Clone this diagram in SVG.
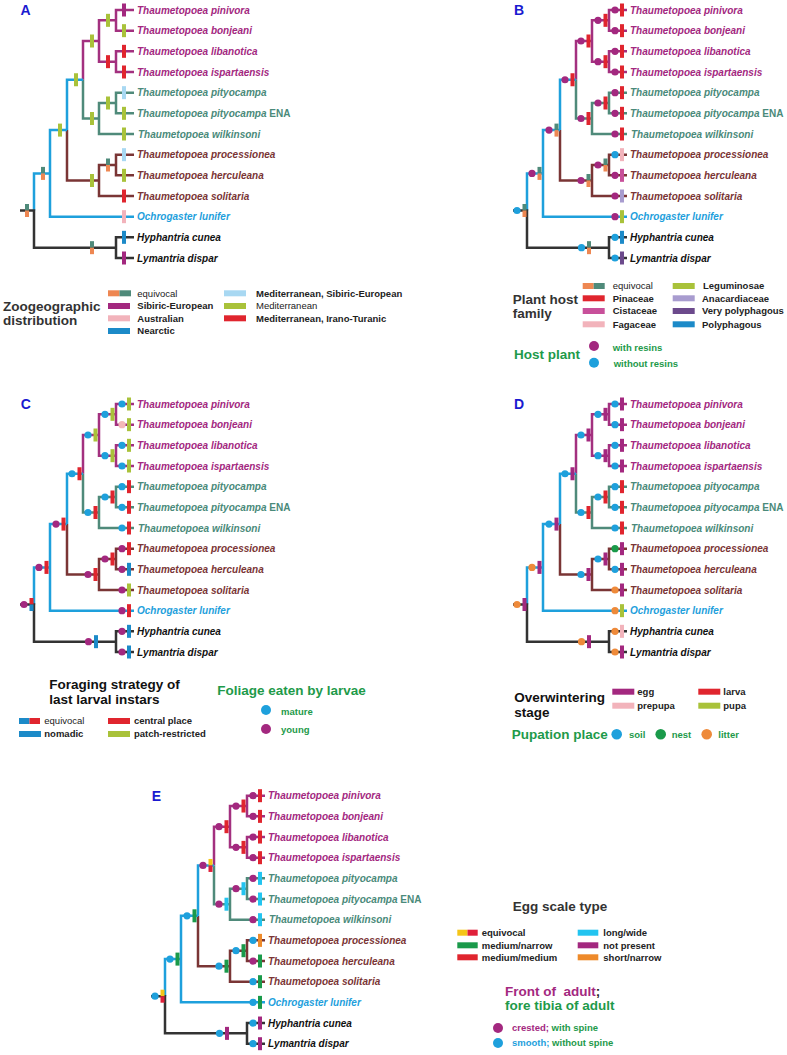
<svg xmlns="http://www.w3.org/2000/svg" width="787" height="1055" viewBox="0 0 787 1055">
<style>
text{font-family:"Liberation Sans",Arial,Helvetica,sans-serif;font-weight:bold}
.lf{font-size:10px;font-style:italic}
.up{font-style:normal}
.cm{fill:#a3287f}.ct{fill:#4a8a7a}.cr{fill:#7a3535}.cb{fill:#1ea0dc}.ck{fill:#111}
.pl{font-size:14px;fill:#1a1ad0}
.h{font-size:13.5px;fill:#333}
.hk{font-size:13.5px;fill:#111}
.hg{font-size:13.5px;fill:#1e9a4a}
.hm{font-size:13.5px;fill:#a3287f}
.li{font-size:9.5px;fill:#222}
.lg{font-size:9.5px;fill:#1e9a4a}
.nw{font-weight:normal}
</style>
<defs>
<rect id="bar" x="-2" y="-6.5" width="4" height="13"/>
<rect id="sw" x="0" y="-3" width="22" height="6"/>
<g id="eqTO"><rect x="-2" y="-6.5" width="4" height="6.5" fill="#4f8a7a"/><rect x="-2" y="0" width="4" height="6.5" fill="#ee8752"/></g>
<g id="eqRB"><rect x="-2" y="-6.5" width="4" height="6.5" fill="#e0252e"/><rect x="-2" y="0" width="4" height="6.5" fill="#1c8ac8"/></g>
<g id="eqYR"><rect x="-2" y="-6.5" width="4" height="6.5" fill="#f5c518"/><rect x="-2" y="0" width="4" height="6.5" fill="#e0203a"/></g>
<circle id="dot" r="3.6"/>
<circle id="ldot" r="5"/>
<g id="tree" fill="none" stroke-width="2.5">
<path stroke="#a3307f" d="M134,10H116V30.67H134M134,51.33H116V72H134M116,20.33H99V61.67H116M99,41H83V79.75"/>
<path stroke="#4f8a7a" d="M134,92.67H116V113.33H134M116,103H99V134H134M99,118.5H83V79.75"/>
<path stroke="#7a3535" d="M134,154.67H116V175.33H134M116,165H99V196H134M99,180.5H67V130.1"/>
<path stroke="#1ea0dc" d="M83,79.75H67V130.1M67,130.1H50V216.67H134M50,173.4H34V210.5"/>
<path stroke="#333" d="M20,210.5H34V247.67H116M134,237.33H116V258H134"/>
</g>
</defs>
<rect width="787" height="1055" fill="#fff"/>

<g id="connectors">
<use href="#tree"/>
<use href="#tree" transform="translate(493,0)"/>
<use href="#tree" transform="translate(0,394)"/>
<use href="#tree" transform="translate(493,394)"/>
<use href="#tree" transform="translate(131,785.7)"/>
</g>

<!-- PANEL A -->
<g id="panelA">
<text class="pl" x="20.5" y="15">A</text>
<g id="A-pb"><use href="#bar" x="108" y="20.33" fill="#a9c23a"/></g>
<g id="A-li"><use href="#bar" x="108" y="61.67" fill="#e0252e"/></g>
<g id="A-pine"><use href="#bar" x="92" y="41" fill="#a9c23a"/></g>
<g id="A-pe"><use href="#bar" x="108" y="103" fill="#a9c23a"/></g>
<g id="A-pw"><use href="#bar" x="92" y="118.5" fill="#a9c23a"/></g>
<g id="A-tp"><use href="#bar" x="76" y="79.75" fill="#a9c23a"/></g>
<g id="A-ph"><use href="#eqTO" x="108" y="165"/></g>
<g id="A-phs"><use href="#bar" x="92" y="180.5" fill="#a9c23a"/></g>
<g id="A-th"><use href="#bar" x="60" y="130.1" fill="#a9c23a"/></g>
<g id="A-to"><use href="#eqTO" x="43" y="173.4"/></g>
<g id="A-root"><use href="#eqTO" x="27" y="210.5"/></g>
<g id="A-hl"><use href="#eqTO" x="92" y="247.67"/></g>
<g id="A-pinivora"><use href="#bar" x="124" y="10" fill="#a3287f"/><text class="lf cm" x="137" y="13.6">Thaumetopoea pinivora</text></g>
<g id="A-bonjeani"><use href="#bar" x="124" y="30.67" fill="#a9c23a"/><text class="lf cm" x="137" y="34.27">Thaumetopoea bonjeani</text></g>
<g id="A-libanotica"><use href="#bar" x="124" y="51.33" fill="#e0252e"/><text class="lf cm" x="137" y="54.93">Thaumetopoea libanotica</text></g>
<g id="A-ispartaensis"><use href="#bar" x="124" y="72" fill="#e0252e"/><text class="lf cm" x="137" y="75.6">Thaumetopoea ispartaensis</text></g>
<g id="A-pityocampa"><use href="#bar" x="124" y="92.67" fill="#a8d8f2"/><text class="lf ct" x="137" y="96.27">Thaumetopoea pityocampa</text></g>
<g id="A-pityocampaENA"><use href="#bar" x="124" y="113.33" fill="#a9c23a"/><text class="lf ct" x="137" y="116.93">Thaumetopoea pityocampa <tspan class="up">ENA</tspan></text></g>
<g id="A-wilkinsoni"><use href="#bar" x="124" y="134" fill="#a9c23a"/><text class="lf ct" x="138" y="137.6">Thaumetopoea wilkinsoni</text></g>
<g id="A-processionea"><use href="#bar" x="124" y="154.67" fill="#a8d8f2"/><text class="lf cr" x="137" y="158.27">Thaumetopoea processionea</text></g>
<g id="A-herculeana"><use href="#bar" x="124" y="175.33" fill="#a9c23a"/><text class="lf cr" x="137" y="178.93">Thaumetopoea herculeana</text></g>
<g id="A-solitaria"><use href="#bar" x="124" y="196" fill="#e0252e"/><text class="lf cr" x="137" y="199.6">Thaumetopoea solitaria</text></g>
<g id="A-ochrogaster"><use href="#bar" x="124" y="216.67" fill="#f2b3bb"/><text class="lf cb" x="137" y="220.27">Ochrogaster lunifer</text></g>
<g id="A-hyphantria"><use href="#bar" x="124" y="237.33" fill="#1c8ac8"/><text class="lf ck" x="137" y="240.93">Hyphantria cunea</text></g>
<g id="A-lymantria"><use href="#bar" x="124" y="258" fill="#a3287f"/><text class="lf ck" x="137" y="261.6">Lymantria dispar</text></g>
</g>
<g id="legendA">
<text class="h" x="3" y="310.5">Zoogeographic</text>
<text class="h" x="3" y="324.5">distribution</text>
<rect x="108" y="290.3" width="11.5" height="6" fill="#ee8752"/><rect x="119.5" y="290.3" width="11.5" height="6" fill="#4f8a7a"/>
<text class="li nw" x="137.3" y="296.7">equivocal</text>
<use href="#sw" x="108" y="306" fill="#a3287f"/><text class="li" x="137.3" y="309.4">Sibiric-European</text>
<use href="#sw" x="108" y="318.3" fill="#f2b3bb"/><text class="li" x="137.3" y="321.7">Australian</text>
<use href="#sw" x="108" y="331" fill="#1c8ac8"/><text class="li" x="137.3" y="334.4">Nearctic</text>
<use href="#sw" x="224" y="293.3" fill="#a8d8f2"/><text class="li" x="256" y="296.7">Mediterranean, Sibiric-European</text>
<use href="#sw" x="224" y="306" fill="#a9c23a"/><text class="li nw" x="256" y="309.4">Mediterranean</text>
<use href="#sw" x="224" y="318.3" fill="#e0252e"/><text class="li" x="256" y="321.7">Mediterranean, Irano-Turanic</text>
</g>

<!-- PANEL B -->
<g id="panelB">
<text class="pl" x="514" y="14.5">B</text>
<g transform="translate(493,0)">
<g id="B-pb"><use href="#dot" x="105" y="20.33" fill="#a3287f"/><use href="#bar" x="112.5" y="20.33" fill="#e0252e"/></g>
<g id="B-li"><use href="#dot" x="105" y="61.67" fill="#a3287f"/><use href="#bar" x="112.5" y="61.67" fill="#e0252e"/></g>
<g id="B-pine"><use href="#dot" x="88" y="41" fill="#a3287f"/><use href="#bar" x="95.5" y="41" fill="#e0252e"/></g>
<g id="B-pe"><use href="#dot" x="105" y="103" fill="#a3287f"/><use href="#bar" x="112.5" y="103" fill="#e0252e"/></g>
<g id="B-pw"><use href="#dot" x="88" y="118.5" fill="#a3287f"/><use href="#bar" x="95.5" y="118.5" fill="#e0252e"/></g>
<g id="B-tp"><use href="#dot" x="72" y="79.75" fill="#a3287f"/><use href="#bar" x="79.5" y="79.75" fill="#e0252e"/></g>
<g id="B-ph"><use href="#dot" x="105" y="165" fill="#a3287f"/><use href="#eqTO" x="112.5" y="165"/></g>
<g id="B-phs"><use href="#dot" x="88" y="180.5" fill="#a3287f"/><use href="#eqTO" x="95.5" y="180.5"/></g>
<g id="B-th"><use href="#dot" x="56" y="130.1" fill="#a3287f"/><use href="#eqTO" x="63.5" y="130.1"/></g>
<g id="B-to"><use href="#dot" x="39" y="173.4" fill="#a3287f"/><use href="#eqTO" x="46.5" y="173.4"/></g>
<g id="B-root"><use href="#dot" x="24" y="210.5" fill="#1ea0dc"/><use href="#eqTO" x="31.5" y="210.5"/></g>
<g id="B-hl"><use href="#dot" x="88.5" y="247.67" fill="#1ea0dc"/><use href="#eqTO" x="96" y="247.67"/></g>
<g id="B-pinivora"><use href="#dot" x="122" y="10" fill="#a3287f"/><use href="#bar" x="129" y="10" fill="#e0252e"/><text class="lf cm" x="137" y="13.6">Thaumetopoea pinivora</text></g>
<g id="B-bonjeani"><use href="#dot" x="122" y="30.67" fill="#a3287f"/><use href="#bar" x="129" y="30.67" fill="#e0252e"/><text class="lf cm" x="137" y="34.27">Thaumetopoea bonjeani</text></g>
<g id="B-libanotica"><use href="#dot" x="122" y="51.33" fill="#a3287f"/><use href="#bar" x="129" y="51.33" fill="#e0252e"/><text class="lf cm" x="137" y="54.93">Thaumetopoea libanotica</text></g>
<g id="B-ispartaensis"><use href="#dot" x="122" y="72" fill="#a3287f"/><use href="#bar" x="129" y="72" fill="#e0252e"/><text class="lf cm" x="137" y="75.6">Thaumetopoea ispartaensis</text></g>
<g id="B-pityocampa"><use href="#dot" x="122" y="92.67" fill="#a3287f"/><use href="#bar" x="129" y="92.67" fill="#e0252e"/><text class="lf ct" x="137" y="96.27">Thaumetopoea pityocampa</text></g>
<g id="B-pityocampaENA"><use href="#dot" x="122" y="113.33" fill="#a3287f"/><use href="#bar" x="129" y="113.33" fill="#e0252e"/><text class="lf ct" x="137" y="116.93">Thaumetopoea pityocampa <tspan class="up">ENA</tspan></text></g>
<g id="B-wilkinsoni"><use href="#dot" x="122" y="134" fill="#a3287f"/><use href="#bar" x="129" y="134" fill="#e0252e"/><text class="lf ct" x="138" y="137.6">Thaumetopoea wilkinsoni</text></g>
<g id="B-processionea"><use href="#dot" x="122" y="154.67" fill="#1ea0dc"/><use href="#bar" x="129" y="154.67" fill="#f2b3bb"/><text class="lf cr" x="137" y="158.27">Thaumetopoea processionea</text></g>
<g id="B-herculeana"><use href="#dot" x="122" y="175.33" fill="#a3287f"/><use href="#bar" x="129" y="175.33" fill="#c8509a"/><text class="lf cr" x="137" y="178.93">Thaumetopoea herculeana</text></g>
<g id="B-solitaria"><use href="#dot" x="122" y="196" fill="#a3287f"/><use href="#bar" x="129" y="196" fill="#a89ccf"/><text class="lf cr" x="137" y="199.6">Thaumetopoea solitaria</text></g>
<g id="B-ochrogaster"><use href="#dot" x="122" y="216.67" fill="#a3287f"/><use href="#bar" x="129" y="216.67" fill="#a9c23a"/><text class="lf cb" x="137" y="220.27">Ochrogaster lunifer</text></g>
<g id="B-hyphantria"><use href="#dot" x="122" y="237.33" fill="#1ea0dc"/><use href="#bar" x="129" y="237.33" fill="#1c8ac8"/><text class="lf ck" x="137" y="240.93">Hyphantria cunea</text></g>
<g id="B-lymantria"><use href="#dot" x="122" y="258" fill="#1ea0dc"/><use href="#bar" x="129" y="258" fill="#6c4a8c"/><text class="lf ck" x="137" y="261.6">Lymantria dispar</text></g>
</g>
</g>
<g id="legendB">
<text class="h" x="512.7" y="303.5">Plant host</text>
<text class="h" x="512.7" y="318">family</text>
<rect x="582.7" y="283" width="11" height="6" fill="#ee8752"/><rect x="593.7" y="283" width="11" height="6" fill="#4f8a7a"/>
<text class="li nw" x="612.7" y="289.4">equivocal</text>
<use href="#sw" x="582.7" y="298.3" fill="#e0252e"/><text class="li" x="612.7" y="301.7">Pinaceae</text>
<use href="#sw" x="582.7" y="311" fill="#c8509a"/><text class="li" x="612.7" y="314.4">Cistaceae</text>
<use href="#sw" x="582.7" y="324.3" fill="#f2b3bb"/><text class="li" x="612.7" y="327.7">Fagaceae</text>
<use href="#sw" x="672.7" y="286" fill="#a9c23a"/><text class="li" x="703" y="289.4">Leguminosae</text>
<use href="#sw" x="672.7" y="298.3" fill="#a89ccf"/><text class="li" x="702" y="301.7">Anacardiaceae</text>
<use href="#sw" x="672.7" y="311" fill="#6c4a8c"/><text class="li" x="702" y="314.4">Very polyphagous</text>
<use href="#sw" x="672.7" y="324.3" fill="#1c8ac8"/><text class="li" x="702" y="327.7">Polyphagous</text>
<text class="hg" x="514" y="358.7">Host plant</text>
<use href="#ldot" x="594" y="346" fill="#a3287f"/>
<use href="#ldot" x="594" y="362.7" fill="#1ea0dc"/>
<text class="lg" x="612.7" y="350.8">with resins</text>
<text class="lg" x="613.7" y="367">without resins</text>
</g>

<!-- PANEL C -->
<g id="panelC">
<text class="pl" x="20.7" y="408.5">C</text>
<g transform="translate(0,394)">
<g id="C-pb"><use href="#dot" x="105" y="20.33" fill="#1ea0dc"/><use href="#bar" x="112.5" y="20.33" fill="#a9c23a"/></g>
<g id="C-li"><use href="#dot" x="105" y="61.67" fill="#1ea0dc"/><use href="#bar" x="112.5" y="61.67" fill="#a9c23a"/></g>
<g id="C-pine"><use href="#dot" x="88" y="41" fill="#1ea0dc"/><use href="#bar" x="95.5" y="41" fill="#a9c23a"/></g>
<g id="C-pe"><use href="#dot" x="105" y="103" fill="#1ea0dc"/><use href="#bar" x="112.5" y="103" fill="#e0252e"/></g>
<g id="C-pw"><use href="#dot" x="88" y="118.5" fill="#1ea0dc"/><use href="#bar" x="95.5" y="118.5" fill="#e0252e"/></g>
<g id="C-tp"><use href="#dot" x="72" y="79.75" fill="#1ea0dc"/><use href="#bar" x="79.5" y="79.75" fill="#e0252e"/></g>
<g id="C-ph"><use href="#dot" x="105" y="165" fill="#a3287f"/><use href="#bar" x="112.5" y="165" fill="#e0252e"/></g>
<g id="C-phs"><use href="#dot" x="88" y="180.5" fill="#a3287f"/><use href="#bar" x="95.5" y="180.5" fill="#e0252e"/></g>
<g id="C-th"><use href="#dot" x="56" y="130.1" fill="#a3287f"/><use href="#bar" x="63.5" y="130.1" fill="#e0252e"/></g>
<g id="C-to"><use href="#dot" x="39" y="173.4" fill="#a3287f"/><use href="#bar" x="46.5" y="173.4" fill="#e0252e"/></g>
<g id="C-root"><use href="#dot" x="24" y="210.5" fill="#a3287f"/><use href="#eqRB" x="31.5" y="210.5"/></g>
<g id="C-hl"><use href="#dot" x="88.5" y="247.67" fill="#a3287f"/><use href="#bar" x="96" y="247.67" fill="#1c8ac8"/></g>
<g id="C-pinivora"><use href="#dot" x="122" y="10" fill="#1ea0dc"/><use href="#bar" x="129" y="10" fill="#a9c23a"/><text class="lf cm" x="137" y="13.6">Thaumetopoea pinivora</text></g>
<g id="C-bonjeani"><use href="#dot" x="122" y="30.67" fill="#f4b8b8"/><use href="#bar" x="129" y="30.67" fill="#a9c23a"/><text class="lf cm" x="137" y="34.27">Thaumetopoea bonjeani</text></g>
<g id="C-libanotica"><use href="#dot" x="122" y="51.33" fill="#1ea0dc"/><use href="#bar" x="129" y="51.33" fill="#a9c23a"/><text class="lf cm" x="137" y="54.93">Thaumetopoea libanotica</text></g>
<g id="C-ispartaensis"><use href="#dot" x="122" y="72" fill="#1ea0dc"/><use href="#bar" x="129" y="72" fill="#a9c23a"/><text class="lf cm" x="137" y="75.6">Thaumetopoea ispartaensis</text></g>
<g id="C-pityocampa"><use href="#dot" x="122" y="92.67" fill="#1ea0dc"/><use href="#bar" x="129" y="92.67" fill="#e0252e"/><text class="lf ct" x="137" y="96.27">Thaumetopoea pityocampa</text></g>
<g id="C-pityocampaENA"><use href="#dot" x="122" y="113.33" fill="#1ea0dc"/><use href="#bar" x="129" y="113.33" fill="#e0252e"/><text class="lf ct" x="137" y="116.93">Thaumetopoea pityocampa <tspan class="up">ENA</tspan></text></g>
<g id="C-wilkinsoni"><use href="#dot" x="122" y="134" fill="#1ea0dc"/><use href="#bar" x="129" y="134" fill="#e0252e"/><text class="lf ct" x="138" y="137.6">Thaumetopoea wilkinsoni</text></g>
<g id="C-processionea"><use href="#dot" x="122" y="154.67" fill="#a3287f"/><use href="#bar" x="129" y="154.67" fill="#e0252e"/><text class="lf cr" x="137" y="158.27">Thaumetopoea processionea</text></g>
<g id="C-herculeana"><use href="#dot" x="122" y="175.33" fill="#a3287f"/><use href="#bar" x="129" y="175.33" fill="#1c8ac8"/><text class="lf cr" x="137" y="178.93">Thaumetopoea herculeana</text></g>
<g id="C-solitaria"><use href="#dot" x="122" y="196" fill="#a3287f"/><use href="#bar" x="129" y="196" fill="#a9c23a"/><text class="lf cr" x="137" y="199.6">Thaumetopoea solitaria</text></g>
<g id="C-ochrogaster"><use href="#dot" x="122" y="216.67" fill="#a3287f"/><use href="#bar" x="129" y="216.67" fill="#e0252e"/><text class="lf cb" x="137" y="220.27">Ochrogaster lunifer</text></g>
<g id="C-hyphantria"><use href="#dot" x="122" y="237.33" fill="#a3287f"/><use href="#bar" x="129" y="237.33" fill="#1c8ac8"/><text class="lf ck" x="137" y="240.93">Hyphantria cunea</text></g>
<g id="C-lymantria"><use href="#dot" x="122" y="258" fill="#a3287f"/><use href="#bar" x="129" y="258" fill="#1c8ac8"/><text class="lf ck" x="137" y="261.6">Lymantria dispar</text></g>
</g>
</g>
<g id="legendC">
<text class="hk" x="49.3" y="689">Foraging strategy of</text>
<text class="hk" x="49.3" y="704">last larval instars</text>
<rect x="19" y="718" width="10.5" height="6" fill="#1c8ac8"/><rect x="29.5" y="718" width="10.5" height="6" fill="#e0252e"/>
<text class="li nw" x="44.3" y="724.4">equivocal</text>
<use href="#sw" x="19" y="734" fill="#1c8ac8"/><text class="li" x="44.3" y="737.4">nomadic</text>
<use href="#sw" x="108" y="721" fill="#e0252e"/><text class="li" x="134" y="724.4">central place</text>
<use href="#sw" x="108" y="734" fill="#a9c23a"/><text class="li" x="134" y="737.4">patch-restricted</text>
<text class="hg" x="217.3" y="695.4">Foliage eaten by larvae</text>
<use href="#ldot" x="266" y="710" fill="#1ea0dc"/>
<use href="#ldot" x="266" y="729" fill="#a3287f"/>
<text class="lg" x="281" y="714.5">mature</text>
<text class="lg" x="281" y="732.5">young</text>
</g>

<!-- PANEL D -->
<g id="panelD">
<text class="pl" x="514" y="409">D</text>
<g transform="translate(493,394)">
<g id="D-pb"><use href="#dot" x="105" y="20.33" fill="#1ea0dc"/><use href="#bar" x="112.5" y="20.33" fill="#a3287f"/></g>
<g id="D-li"><use href="#dot" x="105" y="61.67" fill="#1ea0dc"/><use href="#bar" x="112.5" y="61.67" fill="#a3287f"/></g>
<g id="D-pine"><use href="#dot" x="88" y="41" fill="#1ea0dc"/><use href="#bar" x="95.5" y="41" fill="#a3287f"/></g>
<g id="D-pe"><use href="#dot" x="105" y="103" fill="#1ea0dc"/><use href="#bar" x="112.5" y="103" fill="#e0252e"/></g>
<g id="D-pw"><use href="#dot" x="88" y="118.5" fill="#1ea0dc"/><use href="#bar" x="95.5" y="118.5" fill="#e0252e"/></g>
<g id="D-tp"><use href="#dot" x="72" y="79.75" fill="#1ea0dc"/><use href="#bar" x="79.5" y="79.75" fill="#a3287f"/></g>
<g id="D-ph"><use href="#dot" x="105" y="165" fill="#1ea0dc"/><use href="#bar" x="112.5" y="165" fill="#a3287f"/></g>
<g id="D-phs"><use href="#dot" x="88" y="180.5" fill="#1ea0dc"/><use href="#bar" x="95.5" y="180.5" fill="#a3287f"/></g>
<g id="D-th"><use href="#dot" x="56" y="130.1" fill="#1ea0dc"/><use href="#bar" x="63.5" y="130.1" fill="#a3287f"/></g>
<g id="D-to"><use href="#dot" x="39" y="173.4" fill="#ee8a3a"/><use href="#bar" x="46.5" y="173.4" fill="#a3287f"/></g>
<g id="D-root"><use href="#dot" x="24" y="210.5" fill="#ee8a3a"/><use href="#bar" x="31.5" y="210.5" fill="#a3287f"/></g>
<g id="D-hl"><use href="#dot" x="88.5" y="247.67" fill="#ee8a3a"/><use href="#bar" x="96" y="247.67" fill="#a3287f"/></g>
<g id="D-pinivora"><use href="#dot" x="122" y="10" fill="#1ea0dc"/><use href="#bar" x="129" y="10" fill="#a3287f"/><text class="lf cm" x="137" y="13.6">Thaumetopoea pinivora</text></g>
<g id="D-bonjeani"><use href="#dot" x="122" y="30.67" fill="#1ea0dc"/><use href="#bar" x="129" y="30.67" fill="#a3287f"/><text class="lf cm" x="137" y="34.27">Thaumetopoea bonjeani</text></g>
<g id="D-libanotica"><use href="#dot" x="122" y="51.33" fill="#1ea0dc"/><use href="#bar" x="129" y="51.33" fill="#a3287f"/><text class="lf cm" x="137" y="54.93">Thaumetopoea libanotica</text></g>
<g id="D-ispartaensis"><use href="#dot" x="122" y="72" fill="#1ea0dc"/><use href="#bar" x="129" y="72" fill="#a3287f"/><text class="lf cm" x="137" y="75.6">Thaumetopoea ispartaensis</text></g>
<g id="D-pityocampa"><use href="#dot" x="122" y="92.67" fill="#1ea0dc"/><use href="#bar" x="129" y="92.67" fill="#e0252e"/><text class="lf ct" x="137" y="96.27">Thaumetopoea pityocampa</text></g>
<g id="D-pityocampaENA"><use href="#dot" x="122" y="113.33" fill="#1ea0dc"/><use href="#bar" x="129" y="113.33" fill="#e0252e"/><text class="lf ct" x="137" y="116.93">Thaumetopoea pityocampa <tspan class="up">ENA</tspan></text></g>
<g id="D-wilkinsoni"><use href="#dot" x="122" y="134" fill="#1ea0dc"/><use href="#bar" x="129" y="134" fill="#e0252e"/><text class="lf ct" x="138" y="137.6">Thaumetopoea wilkinsoni</text></g>
<g id="D-processionea"><use href="#dot" x="122" y="154.67" fill="#1a9a4a"/><use href="#bar" x="129" y="154.67" fill="#a3287f"/><text class="lf cr" x="137" y="158.27">Thaumetopoea processionea</text></g>
<g id="D-herculeana"><use href="#dot" x="122" y="175.33" fill="#1ea0dc"/><use href="#bar" x="129" y="175.33" fill="#a3287f"/><text class="lf cr" x="137" y="178.93">Thaumetopoea herculeana</text></g>
<g id="D-solitaria"><use href="#dot" x="122" y="196" fill="#ee8a3a"/><use href="#bar" x="129" y="196" fill="#a3287f"/><text class="lf cr" x="137" y="199.6">Thaumetopoea solitaria</text></g>
<g id="D-ochrogaster"><use href="#dot" x="122" y="216.67" fill="#ee8a3a"/><use href="#bar" x="129" y="216.67" fill="#a9c23a"/><text class="lf cb" x="137" y="220.27">Ochrogaster lunifer</text></g>
<g id="D-hyphantria"><use href="#dot" x="122" y="237.33" fill="#ee8a3a"/><use href="#bar" x="129" y="237.33" fill="#f2b3bb"/><text class="lf ck" x="137" y="240.93">Hyphantria cunea</text></g>
<g id="D-lymantria"><use href="#dot" x="122" y="258" fill="#ee8a3a"/><use href="#bar" x="129" y="258" fill="#a3287f"/><text class="lf ck" x="137" y="261.6">Lymantria dispar</text></g>
</g>
</g>
<g id="legendD">
<text class="hk" x="514.3" y="702.4">Overwintering</text>
<text class="hk" x="514.3" y="716.5">stage</text>
<use href="#sw" x="612.3" y="691.7" fill="#a3287f"/><text class="li" x="637.3" y="695.1">egg</text>
<use href="#sw" x="612.3" y="705.7" fill="#f2b3bb"/><text class="li" x="637.3" y="709.1">prepupa</text>
<use href="#sw" x="698.3" y="691.7" fill="#e0252e"/><text class="li" x="723.3" y="695.1">larva</text>
<use href="#sw" x="698.3" y="705.7" fill="#a9c23a"/><text class="li" x="723.3" y="709.1">pupa</text>
<text class="hg" x="511.7" y="739">Pupation place</text>
<circle cx="616.7" cy="734.3" r="5.3" fill="#1ea0dc"/><text class="lg" x="629" y="737.7">soil</text>
<circle cx="660.7" cy="734.3" r="5.3" fill="#1a9a4a"/><text class="lg" x="671.7" y="737.7">nest</text>
<circle cx="706.7" cy="734.3" r="5.3" fill="#ee8a3a"/><text class="lg" x="718.3" y="737.7">litter</text>
</g>

<!-- PANEL E -->
<g id="panelE">
<text class="pl" x="151.7" y="800.5">E</text>
<g transform="translate(131,785.7)">
<g id="E-pb"><use href="#dot" x="105" y="20.33" fill="#a3287f"/><use href="#bar" x="112.5" y="20.33" fill="#e0252e"/></g>
<g id="E-li"><use href="#dot" x="105" y="61.67" fill="#a3287f"/><use href="#bar" x="112.5" y="61.67" fill="#e0252e"/></g>
<g id="E-pine"><use href="#dot" x="88" y="41" fill="#a3287f"/><use href="#bar" x="95.5" y="41" fill="#e0252e"/></g>
<g id="E-pe"><use href="#dot" x="105" y="103" fill="#a3287f"/><use href="#bar" x="112.5" y="103" fill="#22c4f0"/></g>
<g id="E-pw"><use href="#dot" x="88" y="118.5" fill="#a3287f"/><use href="#bar" x="95.5" y="118.5" fill="#22c4f0"/></g>
<g id="E-tp"><use href="#dot" x="72" y="79.75" fill="#a3287f"/><use href="#eqYR" x="79.5" y="79.75"/></g>
<g id="E-ph"><use href="#dot" x="105" y="165" fill="#1ea0dc"/><use href="#bar" x="112.5" y="165" fill="#1a9a4a"/></g>
<g id="E-phs"><use href="#dot" x="88" y="180.5" fill="#1ea0dc"/><use href="#bar" x="95.5" y="180.5" fill="#1a9a4a"/></g>
<g id="E-th"><use href="#dot" x="56" y="130.1" fill="#1ea0dc"/><use href="#bar" x="63.5" y="130.1" fill="#1a9a4a"/></g>
<g id="E-to"><use href="#dot" x="39" y="173.4" fill="#1ea0dc"/><use href="#bar" x="46.5" y="173.4" fill="#1a9a4a"/></g>
<g id="E-root"><use href="#dot" x="24" y="210.5" fill="#1ea0dc"/><use href="#eqYR" x="31.5" y="210.5"/></g>
<g id="E-hl"><use href="#dot" x="88.5" y="247.67" fill="#1ea0dc"/><use href="#bar" x="96" y="247.67" fill="#a3287f"/></g>
<g id="E-pinivora"><use href="#dot" x="122" y="10" fill="#a3287f"/><use href="#bar" x="129" y="10" fill="#e0252e"/><text class="lf cm" x="137" y="13.6">Thaumetopoea pinivora</text></g>
<g id="E-bonjeani"><use href="#dot" x="122" y="30.67" fill="#a3287f"/><use href="#bar" x="129" y="30.67" fill="#e0252e"/><text class="lf cm" x="137" y="34.27">Thaumetopoea bonjeani</text></g>
<g id="E-libanotica"><use href="#dot" x="122" y="51.33" fill="#a3287f"/><use href="#bar" x="129" y="51.33" fill="#e0252e"/><text class="lf cm" x="137" y="54.93">Thaumetopoea libanotica</text></g>
<g id="E-ispartaensis"><use href="#dot" x="122" y="72" fill="#a3287f"/><use href="#bar" x="129" y="72" fill="#e0252e"/><text class="lf cm" x="137" y="75.6">Thaumetopoea ispartaensis</text></g>
<g id="E-pityocampa"><use href="#dot" x="122" y="92.67" fill="#a3287f"/><use href="#bar" x="129" y="92.67" fill="#22c4f0"/><text class="lf ct" x="137" y="96.27">Thaumetopoea pityocampa</text></g>
<g id="E-pityocampaENA"><use href="#dot" x="122" y="113.33" fill="#a3287f"/><use href="#bar" x="129" y="113.33" fill="#22c4f0"/><text class="lf ct" x="137" y="116.93">Thaumetopoea pityocampa <tspan class="up">ENA</tspan></text></g>
<g id="E-wilkinsoni"><use href="#dot" x="122" y="134" fill="#a3287f"/><use href="#bar" x="129" y="134" fill="#22c4f0"/><text class="lf ct" x="138" y="137.6">Thaumetopoea wilkinsoni</text></g>
<g id="E-processionea"><use href="#dot" x="122" y="154.67" fill="#1ea0dc"/><use href="#bar" x="129" y="154.67" fill="#ee8a2a"/><text class="lf cr" x="137" y="158.27">Thaumetopoea processionea</text></g>
<g id="E-herculeana"><use href="#dot" x="122" y="175.33" fill="#a3287f"/><use href="#bar" x="129" y="175.33" fill="#1a9a4a"/><text class="lf cr" x="137" y="178.93">Thaumetopoea herculeana</text></g>
<g id="E-solitaria"><use href="#dot" x="122" y="196" fill="#1ea0dc"/><use href="#bar" x="129" y="196" fill="#1a9a4a"/><text class="lf cr" x="137" y="199.6">Thaumetopoea solitaria</text></g>
<g id="E-ochrogaster"><use href="#dot" x="122" y="216.67" fill="#1ea0dc"/><use href="#bar" x="129" y="216.67" fill="#1a9a4a"/><text class="lf cb" x="137" y="220.27">Ochrogaster lunifer</text></g>
<g id="E-hyphantria"><use href="#dot" x="122" y="237.33" fill="#1ea0dc"/><use href="#bar" x="129" y="237.33" fill="#a3287f"/><text class="lf ck" x="137" y="240.93">Hyphantria cunea</text></g>
<g id="E-lymantria"><use href="#dot" x="122" y="258" fill="#1ea0dc"/><use href="#bar" x="129" y="258" fill="#a3287f"/><text class="lf ck" x="137" y="261.6">Lymantria dispar</text></g>
</g>
</g>
<g id="legendE">
<text class="h" x="512.7" y="911.4">Egg scale type</text>
<rect x="457.3" y="929.7" width="10.2" height="6" fill="#f5c518"/><rect x="467.5" y="929.7" width="10.2" height="6" fill="#e0203a"/>
<text class="li" x="481.7" y="936.1">equivocal</text>
<rect x="457.3" y="942.3" width="20.4" height="6" fill="#1a9a4a"/><text class="li" x="481.7" y="948.7">medium/narrow</text>
<rect x="457.3" y="954.3" width="20.4" height="6" fill="#e0252e"/><text class="li" x="481.7" y="960.7">medium/medium</text>
<rect x="577.7" y="929.7" width="20.6" height="6" fill="#22c4f0"/><text class="li" x="603.3" y="936.1">long/wide</text>
<rect x="577.7" y="942.3" width="20.6" height="6" fill="#a3287f"/><text class="li" x="603.3" y="948.7">not present</text>
<rect x="577.7" y="954.3" width="20.6" height="6" fill="#ee8a2a"/><text class="li" x="603.3" y="960.7">short/narrow</text>
<text class="hm" x="505" y="996.4" xml:space="preserve">Front of  adult<tspan fill="#222">;</tspan></text>
<text class="hg" x="505" y="1009.7">fore tibia of adult</text>
<use href="#ldot" x="498" y="1028" fill="#a3287f"/>
<use href="#ldot" x="498" y="1043" fill="#1ea0dc"/>
<text class="lg" x="512" y="1031.4"><tspan fill="#a3287f">crested;</tspan> with spine</text>
<text class="lg" x="512" y="1046.4"><tspan fill="#1ea0dc">smooth;</tspan> without spine</text>
</g>
</svg>
